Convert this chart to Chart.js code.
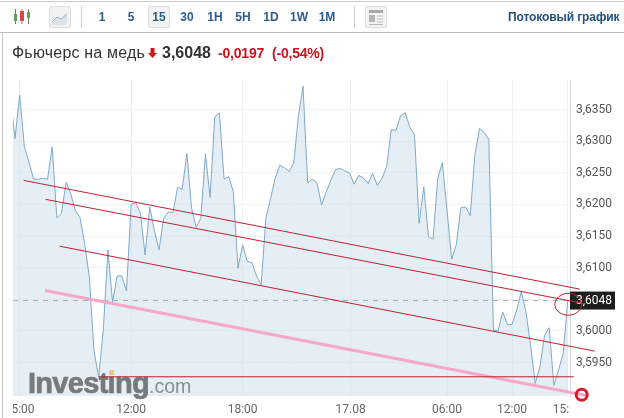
<!DOCTYPE html>
<html>
<head>
<meta charset="utf-8">
<script src="https://cdn.jsdelivr.net/npm/chart.js@4/dist/chart.umd.min.js"></script>
<style>
  html, body { margin: 0; padding: 0; background: #fff; }
  #page { position: relative; width: 624px; height: 418px; overflow: hidden; font-family: "Liberation Sans", Arial, sans-serif; }
  #page canvas { position: absolute; left: 0; top: 0; }
  .abs { position: absolute; white-space: nowrap; }
  .rule-top { left: 0; top: 1px; width: 624px; height: 1px; background: #c9c9c9; }
  .rule-mid { left: 0; top: 32px; width: 624px; height: 1px; background: #bcbcbc; }
  .rule-left { left: 2px; top: 33px; width: 1px; height: 385px; background: #c4c4c4; }
  .sep { top: 6px; width: 1px; height: 22px; background: #cfcfcf; }
  .btn { top: 6px; width: 20px; height: 20px; background: #f2f2f2; border: 1px solid #dedede; border-radius: 2px; }
  .period { top: 9px; width: 24px; text-align: center; font-size: 12px; line-height: 16px; font-weight: bold; color: #2b5c8e; }
  .stream { left: 508px; top: 9px; font-size: 12px; line-height: 16px; font-weight: bold; color: #23507f; letter-spacing: -0.1px; }
  .name { left: 12px; top: 43px; font-size: 16px; line-height: 20px; color: #333; letter-spacing: 0.2px; }
  .last { left: 162px; top: 43px; font-size: 16px; line-height: 20px; font-weight: bold; color: #333; }
  .chg { top: 45px; font-size: 14px; line-height: 16px; font-weight: bold; color: #c9151e; letter-spacing: -0.2px; }
</style>
</head>
<body>
<div id="page">
  <canvas id="priceChart" width="624" height="418"></canvas>
  <div class="abs rule-top"></div>
  <div class="abs rule-mid"></div>
  <div class="abs rule-left"></div>

  <svg class="abs" style="left:12px;top:8px" width="20" height="18">
    <path d="M3.5 1V16M10 1V16M16.5 1V16" stroke-width="1" fill="none" stroke="#777"/>
    <rect x="2" y="6" width="3" height="7" fill="#5ca35c"/>
    <rect x="8" y="3" width="4" height="10" fill="#d8484a"/>
    <rect x="15" y="4" width="3" height="6" fill="#5ca35c"/>
  </svg>
  <div class="abs btn" style="left:49px"></div>
  <svg class="abs" style="left:52px;top:11px" width="16" height="14">
    <path d="M0 11L5 6L9 8L15 3V14H0Z" fill="#dbe2ea"/>
    <path d="M0 11L5 6L9 8L15 3" stroke="#9fb0c2" fill="none"/>
  </svg>
  <div class="abs sep" style="left:81px"></div>
  <div class="abs btn" style="left:148px"></div>
  <div id="periods"></div>
  <div class="abs sep" style="left:354px"></div>
  <div class="abs btn" style="left:365px"></div>
  <svg class="abs" style="left:369px;top:10px" width="14" height="16">
    <rect x="0" y="0" width="14" height="3" fill="#a9a9a9"/>
    <rect x="0" y="5" width="6" height="7" fill="#b5b5b5"/>
    <path d="M8 6H14M8 9H14M8 12H14M0 14.5H14" stroke="#bcbcbc"/>
  </svg>
  <div class="abs stream">Потоковый график</div>

  <div class="abs name">Фьючерс на медь</div>
  <svg class="abs" style="left:148px;top:48px" width="9" height="10">
    <path d="M2.5 0H6.5V5H9L4.5 10L0 5H2.5Z" fill="#d3121c"/>
  </svg>
  <div class="abs last">3,6048</div>
  <div class="abs chg" style="left:218px">-0,0197</div>
  <div class="abs chg" style="left:272px">(-0,54%)</div>
</div>

<script>
const periods = ['1', '5', '15', '30', '1H', '5H', '1D', '1W', '1M'];
const periodCenters = [102, 131, 159, 187, 215, 243, 271, 299, 327];

const prices = [
  3.6370, 3.6304, 3.6373, 3.6292, 3.6267, 3.6240, 3.6240, 3.6241, 3.6240, 3.6291,
  3.6179, 3.6186, 3.6235, 3.6217, 3.6190, 3.6179, 3.6138, 3.6085, 3.5969, 3.5927,
  3.6001, 3.6128, 3.6046, 3.6087, 3.6087, 3.6063, 3.6200, 3.6203, 3.6186, 3.6120,
  3.6196, 3.6159, 3.6128, 3.6178, 3.6188, 3.6187, 3.6227, 3.6224, 3.6281, 3.6194,
  3.6164, 3.6178, 3.6280, 3.6211, 3.6338, 3.6345, 3.6240, 3.6244, 3.6220, 3.6099,
  3.6136, 3.6110, 3.6108, 3.6087, 3.6073, 3.6178, 3.6209, 3.6241, 3.6262, 3.6258,
  3.6252, 3.6265, 3.6339, 3.6387, 3.6234, 3.6240, 3.6234, 3.6199, 3.6220, 3.6238,
  3.6255, 3.6257, 3.6253, 3.6250, 3.6232, 3.6246, 3.6242, 3.6233, 3.6249, 3.6230,
  3.6241, 3.6260, 3.6318, 3.6317, 3.6340, 3.6345, 3.6322, 3.6310, 3.6170, 3.6228,
  3.6149, 3.6145, 3.6241, 3.6266, 3.6191, 3.6113, 3.6136, 3.6195, 3.6196, 3.6182,
  3.6278, 3.6320, 3.6314, 3.6303, 3.6001, 3.6000, 3.6030, 3.6010, 3.6010, 3.6033,
  3.6062, 3.6030, 3.5977, 3.5917, 3.5943, 3.5993, 3.6005, 3.5914, 3.5938, 3.5964,
  3.6048
];

const yTicks = [3.595, 3.600, 3.610, 3.615, 3.620, 3.625, 3.630, 3.635];
const gridOnly = [3.605];
const xTicks = [2, 26, 50, 73.25, 94, 108, 120];
const xLabels = ['15:00', '12:00', '18:00', '17.08', '06:00', '12:00', '15:00'];

const lastPrice = 3.6048;
const xRange = [0.566, 120.48];
const yRange = [3.58971, 3.63967];

// hand drawn trend lines, in [index, price] pairs
const channelTop = [[2.87, 3.6238], [122.6, 3.6066]];
const channelMid = [[7.6, 3.6208], [123.6, 3.6043]];
const channelLow = [[10.6, 3.6134], [125.8, 3.5968]];
const pinkLine = [[7.46, 3.6064], [124, 3.5898]];
const flatLine = [[19, 3.59275], [121.3, 3.59275]];
const ringPoint = [123, 3.5899];
const ellipsePoint = [120.1, 3.6042];

const periodsEl = document.getElementById('periods');
periods.forEach((p, i) => {
  const d = document.createElement('div');
  d.className = 'abs period';
  d.style.left = (periodCenters[i] - 12) + 'px';
  d.textContent = p;
  periodsEl.appendChild(d);
});

const toPoints = pairs => pairs.map(p => ({ x: p[0], y: p[1] }));
const trend = (pairs, color, width) => ({
  data: toPoints(pairs),
  borderColor: color,
  borderWidth: width,
  pointRadius: 0,
  clip: false,
  order: 1
});

const overlay = {
  id: 'overlay',
  beforeDatasetsDraw(chart) {
    const { ctx, scales: { x, y } } = chart;
    const py = y.getPixelForValue(lastPrice);
    ctx.save();
    // current price tag
    ctx.fillStyle = '#1d1d1d';
    ctx.fillRect(x.right, py - 9, 45, 18);
    ctx.fillStyle = '#fff';
    ctx.font = '12px Roboto';
    ctx.textBaseline = 'middle';
    ctx.fillText('3,6048', x.right + 6, py + 0.5);
    ctx.restore();
  },
  afterDatasetDraw(chart, args) {
    if (args.index !== 0) return;
    // logo sits on the area but under the drawn lines
    const { ctx } = chart;
    ctx.save();
    ctx.textBaseline = 'alphabetic';
    ctx.textAlign = 'left';
    ctx.fillStyle = '#777a7d';
    ctx.strokeStyle = '#777a7d';
    ctx.lineWidth = 0.7;
    ctx.font = 'bold 29px "Liberation Sans"';
    ctx.letterSpacing = '-0.7px';
    ctx.fillText('Investing', 28, 392.5);
    ctx.strokeText('Investing', 28, 392.5);
    const w = ctx.measureText('Investing').width;
    ctx.letterSpacing = '0px';
    ctx.font = '19.5px "Liberation Sans"';
    ctx.fillStyle = '#8b8e91';
    ctx.fillText('.com', 28 + w, 392.5);
    ctx.fillStyle = '#efc777';
    ctx.fillRect(109, 370, 5, 5);
    ctx.restore();
  },
  afterDatasetsDraw(chart) {
    const { ctx, scales: { x, y } } = chart;
    ctx.save();
    ctx.strokeStyle = '#c0282f';
    ctx.lineWidth = 1;
    ctx.beginPath();
    ctx.ellipse(x.getPixelForValue(ellipsePoint[0]), y.getPixelForValue(ellipsePoint[1]), 13.5, 11, 0, 0, Math.PI * 2);
    ctx.stroke();
    ctx.restore();
  },
  afterDraw(chart) {
    // first and last time labels are cut off by the plot edges in the widget
    const { ctx, chartArea, scales: { x, y } } = chart;
    ctx.save();
    ctx.fillStyle = '#fff';
    ctx.fillRect(0, chartArea.bottom + 6, chartArea.left, 20);
    ctx.fillRect(chartArea.right, chartArea.bottom + 6, 14, 20);
    // red ring marker past the end of the pink line
    ctx.strokeStyle = '#dc1a2c';
    ctx.lineWidth = 3;
    ctx.beginPath();
    ctx.arc(x.getPixelForValue(ringPoint[0]), y.getPixelForValue(ringPoint[1]), 5.5, 0, Math.PI * 2);
    ctx.stroke();
    ctx.restore();
  }
};

new Chart(document.getElementById('priceChart'), {
  type: 'line',
  data: {
    datasets: [
      {
        data: prices.map((v, i) => ({ x: i, y: v })),
        borderColor: '#7fa9c7',
        borderWidth: 1,
        backgroundColor: 'rgba(201,221,233,0.5)',
        fill: 'start',
        pointRadius: 0,
        tension: 0,
        order: 5
      },
      {
        data: [{ x: xRange[0], y: lastPrice }, { x: xRange[1], y: lastPrice }],
        borderColor: '#a9aeb2',
        borderWidth: 1,
        borderDash: [5, 5],
        pointRadius: 0,
        order: 4
      },
      trend(channelTop, '#bd2130', 1),
      trend(channelMid, '#bd2130', 1),
      trend(channelLow, '#bd2130', 1),
      trend(flatLine, '#bd2130', 1),
      trend(pinkLine, '#f7a8c8', 3)
    ]
  },
  plugins: [overlay],
  options: {
    responsive: false,
    animation: false,
    layout: { padding: { left: 13, top: 80, right: 0, bottom: 0 } },
    plugins: { legend: { display: false }, tooltip: { enabled: false } },
    scales: {
      x: {
        type: 'linear',
        min: xRange[0],
        max: xRange[1],
        afterBuildTicks(scale) { scale.ticks = xTicks.map(v => ({ value: v })); },
        afterFit(scale) {
          scale.height = 22;
          scale.paddingLeft = 0;
          scale.paddingRight = 0;
        },
        ticks: {
          autoSkip: false,
          maxRotation: 0,
          padding: 7,
          color: '#666',
          font: { family: 'Roboto', size: 12 },
          callback: v => xLabels[xTicks.indexOf(v)]
        },
        grid: { color: '#eef1f4', drawTicks: false },
        border: { display: false }
      },
      y: {
        position: 'right',
        min: yRange[0],
        max: yRange[1],
        afterBuildTicks(scale) {
          scale.ticks = yTicks.concat(gridOnly).sort().map(v => ({ value: v }));
        },
        afterFit(scale) { scale.width = 54; },
        ticks: {
          padding: 6,
          color: '#555',
          font: { family: 'Roboto', size: 12 },
          callback: v => gridOnly.includes(v) ? '' : v.toFixed(4).replace('.', ',')
        },
        grid: { color: '#f1f3f5', drawTicks: false },
        border: { color: '#d6d6d6' }
      }
    }
  }
});
</script>
</body>
</html>
